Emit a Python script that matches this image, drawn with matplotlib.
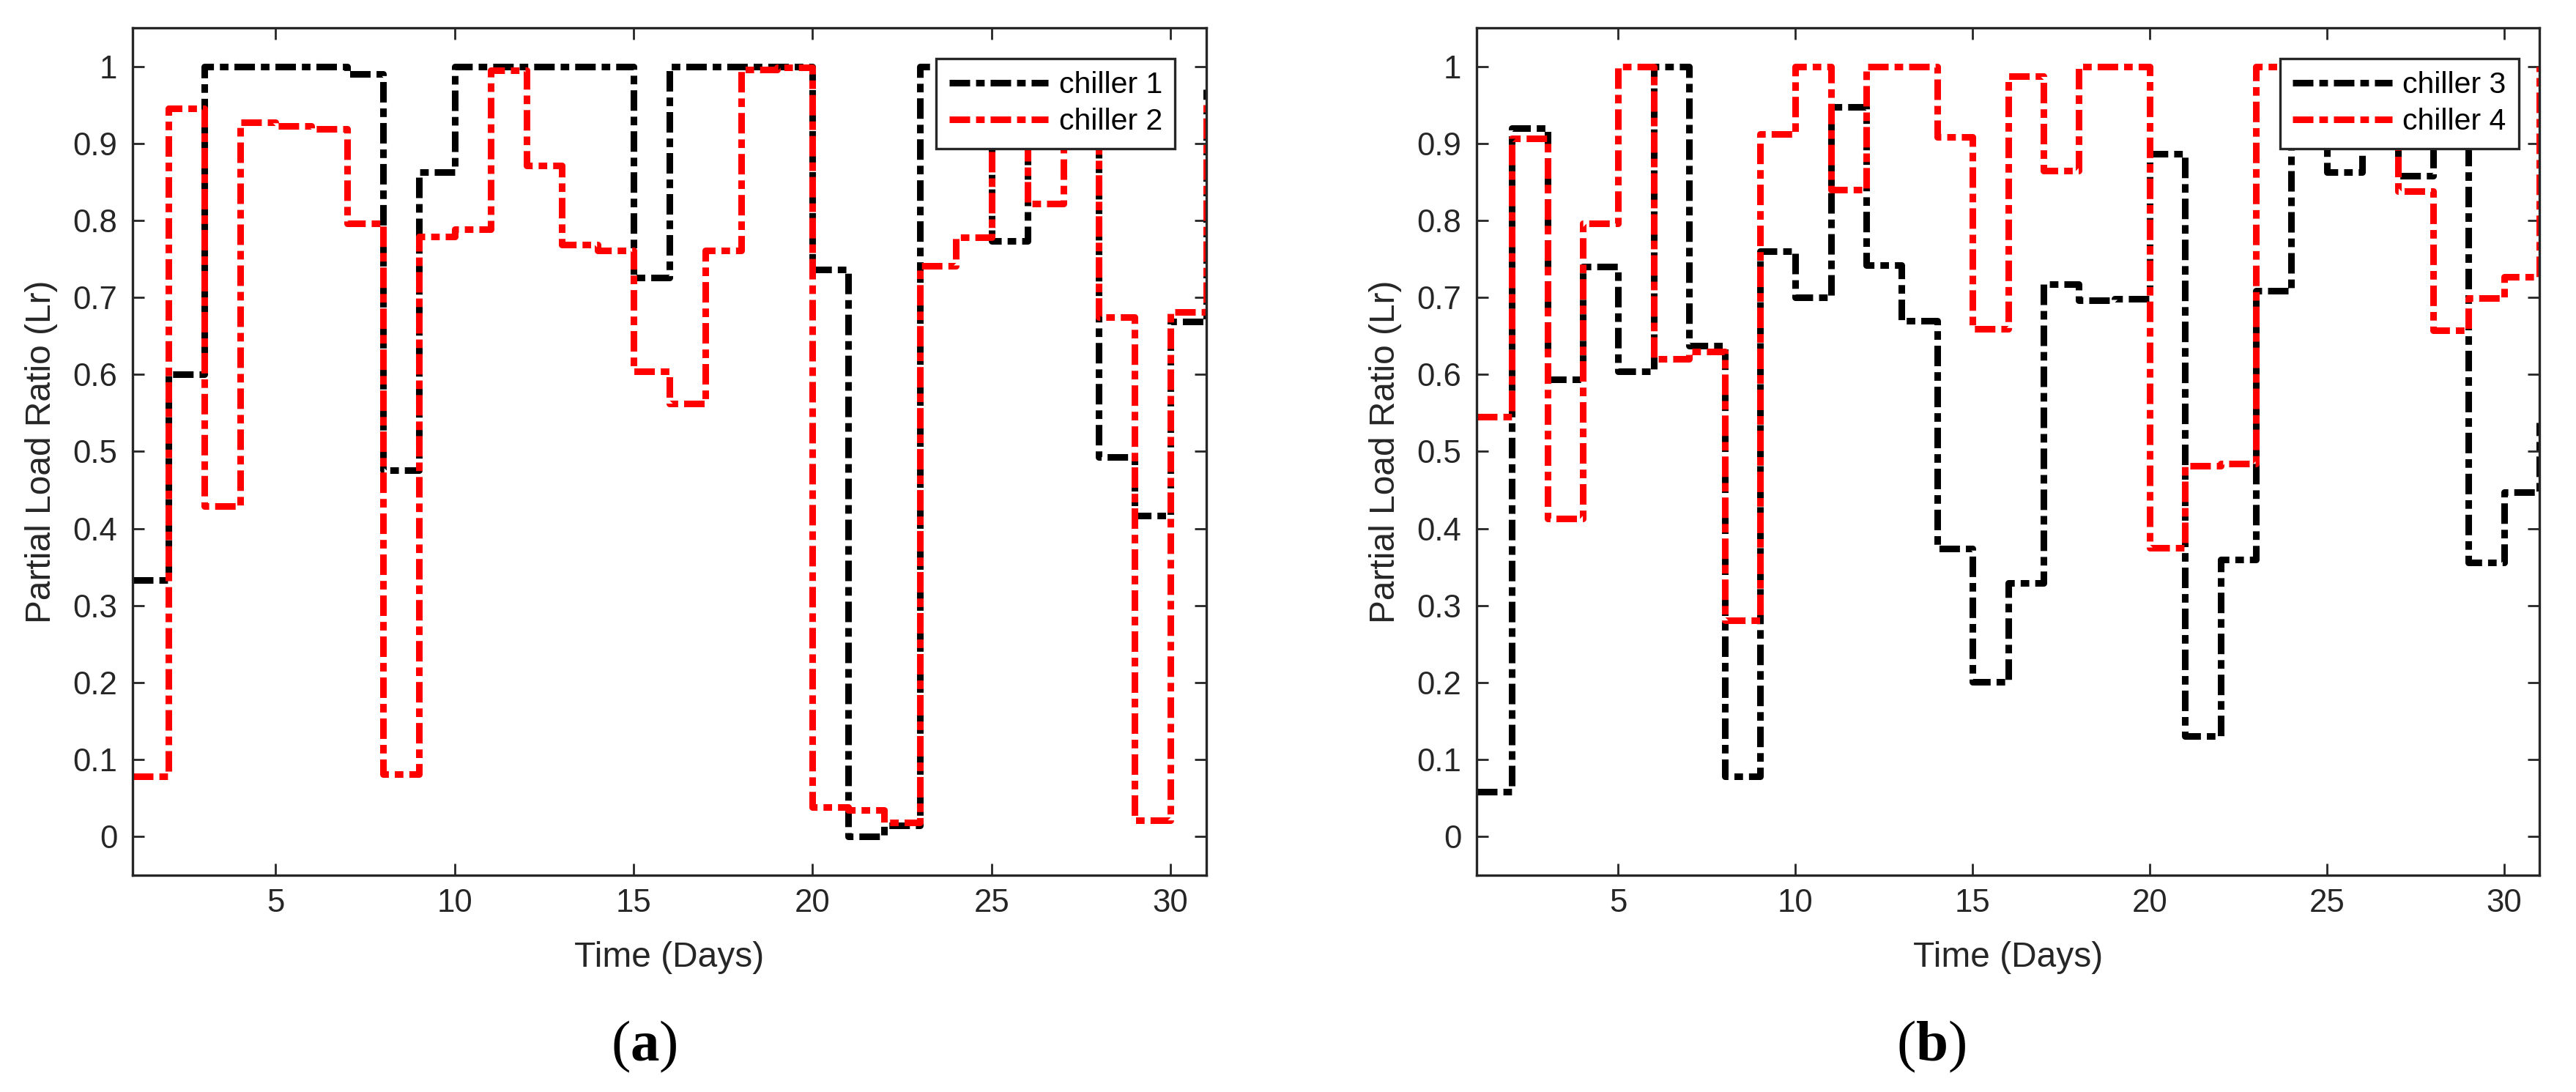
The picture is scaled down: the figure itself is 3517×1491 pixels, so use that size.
import numpy as np
import matplotlib.pyplot as plt

plt.rcParams['font.family'] = ['Liberation Sans', 'DejaVu Sans']
plt.rcParams['mathtext.fontset'] = 'custom'
plt.rcParams['mathtext.bf'] = 'Liberation Serif:bold'
plt.rcParams['mathtext.rm'] = 'Liberation Serif'

# data (stairs, one value per day)
days = np.arange(1, 32)

chiller1 = [0.333, 0.600, 1.000, 1.000, 1.000, 1.000, 0.990, 0.476, 0.863, 1.000,
            1.000, 1.000, 1.000, 1.000, 0.726, 1.000, 1.000, 1.000, 1.000, 0.736,
            0.000, 0.015, 1.000, 0.950, 0.773, 0.950, 0.950, 0.493, 0.417, 0.669,
            0.970]
chiller2 = [0.078, 0.945, 0.429, 0.927, 0.923, 0.919, 0.796, 0.081, 0.779, 0.789,
            0.995, 0.871, 0.769, 0.761, 0.604, 0.562, 0.761, 0.996, 0.999, 0.038,
            0.035, 0.018, 0.741, 0.778, 0.940, 0.822, 0.940, 0.674, 0.021, 0.681,
            0.950]
chiller3 = [0.058, 0.920, 0.594, 0.740, 0.604, 1.000, 0.637, 0.078, 0.760, 0.700,
            0.947, 0.742, 0.670, 0.374, 0.201, 0.329, 0.717, 0.696, 0.698, 0.886,
            0.131, 0.360, 0.709, 0.940, 0.863, 0.940, 0.858, 0.940, 0.356, 0.447,
            0.538]
chiller4 = [0.545, 0.906, 0.413, 0.796, 1.000, 0.620, 0.630, 0.281, 0.912, 1.000,
            0.840, 1.000, 1.000, 0.908, 0.659, 0.987, 0.865, 1.000, 1.000, 0.375,
            0.481, 0.484, 1.000, 1.000, 0.950, 0.950, 0.838, 0.657, 0.699, 0.727,
            1.000]

xticks = [5, 10, 15, 20, 25, 30]
yticks = np.round(np.arange(0, 1.01, 0.1), 1)
ytick_labels = ['0'] + ['%.1f' % v for v in yticks[1:-1]] + ['1']

W, H = 3517, 1491
fig = plt.figure(figsize=(W / 100, H / 100), dpi=100)

gray = '#262626'
dash = (0, (3.1, 0.9, 1.3, 0.9))
lw = 6.5

panels = [
    (181, 1647, chiller1, chiller2, ['chiller 1', 'chiller 2'], 0.9707, '(a)', 879),
    (2016, 3467, chiller3, chiller4, ['chiller 3', 'chiller 4'], 0.9807, '(b)', 2637),
]
top_px, bot_px = 38, 1195

for left, right, s1, s2, names, leg_x, tag, tag_x in panels:
    ax = fig.add_axes([left / W, 1 - bot_px / H, (right - left) / W, (bot_px - top_px) / H])
    ax.step(days, s1, where='post', color='black', lw=lw, ls=dash, label=names[0])
    ax.step(days, s2, where='post', color='red', lw=lw, ls=dash, label=names[1])
    ax.set_xlim(1, 31)
    ax.set_ylim(-0.05, 1.05)
    ax.set_xticks(xticks)
    ax.set_yticks(yticks)
    ax.set_yticklabels(ytick_labels)
    ax.tick_params(direction='in', length=11.5, width=2, color=gray, labelcolor=gray,
                   labelsize=31.5, top=True, right=True)
    ax.tick_params(axis='y', pad=15)
    ax.tick_params(axis='x', pad=13)
    for sp in ax.spines.values():
        sp.set_linewidth(2.4)
        sp.set_color(gray)
    ax.set_xlabel('Time (Days)', fontsize=34.5, color=gray)
    ax.set_ylabel('Partial Load Ratio (Lr)', fontsize=34.5, color=gray)
    ax.xaxis.set_label_coords(0.5, (bot_px - 1308) / (bot_px - top_px))
    ax.xaxis.label.set_va('center')
    ax.yaxis.set_label_coords(-124 / (right - left), 0.5)
    ax.yaxis.label.set_va('center')
    leg = ax.legend(loc='upper right', bbox_to_anchor=(leg_x, 0.9637), fontsize=29.5,
                    frameon=True, fancybox=False, framealpha=1, edgecolor=gray,
                    handlelength=3.3, handletextpad=0.36, labelspacing=0.3,
                    borderpad=0.42, borderaxespad=0)
    leg.get_frame().set_linewidth(2.4)
    fig.text(tag_x / W, 1 - 1429 / H, '(' + r'$\mathbf{' + tag[1] + '}$' + ')',
             family='Liberation Serif', fontsize=57, ha='center', va='center')

fig.savefig('out.png', dpi=100)
